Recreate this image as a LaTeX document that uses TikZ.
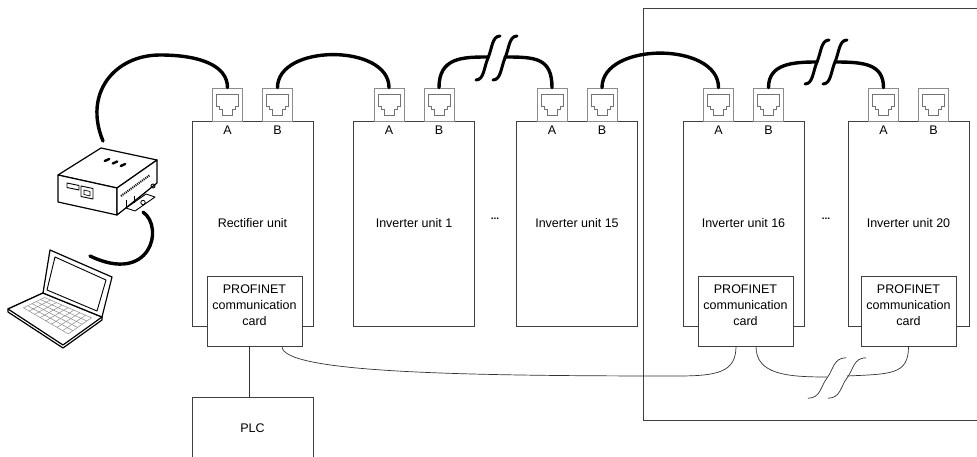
\documentclass[tikz,border=0pt]{standalone}
\usepackage{fontspec}
\setmainfont{Liberation Sans}
\usetikzlibrary{positioning,calc}

\tikzset{
    unit/.style={draw=black!75, line width=0.9pt, fill=white, inner sep=0pt,
        minimum width=121pt, minimum height=205pt, font=\fontsize{12.5}{15}\selectfont},
    card/.style={draw=black!75, line width=0.9pt, fill=white, inner sep=0pt,
        minimum width=95pt, minimum height=70pt,
        label={[align=center, yshift=6pt, font=\fontsize{12.5}{16}\selectfont]center:PROFINET\\communication\\card}},
    jack/.style={draw=black!45, line width=0.8pt, fill=white, inner sep=0pt,
        minimum width=30pt, minimum height=33pt,
        path picture={
            \coordinate (nw) at (path picture bounding box.north west);
            \draw[black!55, line width=0.8pt]
            ($(nw)+(4pt,-6pt)$) -- ($(nw)+(26pt,-6pt)$) -- ($(nw)+(26pt,-18pt)$) -- ($(nw)+(23pt,-18pt)$)
            -- ($(nw)+(23pt,-21pt)$) -- ($(nw)+(20pt,-21pt)$) -- ($(nw)+(20pt,-27pt)$) -- ($(nw)+(10pt,-27pt)$)
            -- ($(nw)+(10pt,-21pt)$) -- ($(nw)+(7pt,-21pt)$) -- ($(nw)+(7pt,-18pt)$) -- ($(nw)+(4pt,-18pt)$) -- cycle;}},
    jacklbl/.style={inner sep=0pt, font=\fontsize{12.5}{15}\selectfont},
    dotsep/.style={inner sep=0pt, font=\fontsize{10}{12}\selectfont\bfseries},
    cable/.style={line width=3.4pt, line cap=round},
    wire/.style={line width=0.7pt, black!80},
    pics/cablecut/.style={code={
        \draw (-12,22) .. controls (-4,22) and (-4,9) .. (0,0) .. controls (4,-9) and (4,-22) .. (12,-22);
    }},
}

\begin{document}
\begin{tikzpicture}[x=1pt, y=-1pt]
    \useasboundingbox (0,0) rectangle (977,457);
    \clip (0,0) rectangle (977,457);

    % drive cabinet section
    \draw[black!75, line width=0.9pt] (643,8) rectangle (990,420);

    % units with their two ports
    \foreach \n/\x/\t in {rect/252.5/Rectifier unit, inva/414/Inverter unit 1, invb/577/Inverter unit 15,
                          invc/743.5/Inverter unit 16, invd/908.5/Inverter unit 20} {
        \node[unit] (\n) at (\x,223.5) {\t};
        \node[jack] (\n-a) at ({\x-25},104.5) {};
        \node[jack] (\n-b) at ({\x+25},104.5) {};
        \node[jacklbl, below=4pt of \n-a] (\n-al) {A};
        \node[jacklbl, below=4pt of \n-b] (\n-bl) {B};
    }
    \node[dotsep] (gap1) at (495,219) {...};
    \node[dotsep] (gap2) at (826,219) {...};

    % fieldbus cards
    \node[card] (rect-card) at (254.5,311) {};
    \node[card] (invc-card) at (745.5,311) {};
    \node[card] (invd-card) at (908.5,311) {};

    \node[draw=black!75, line width=0.9pt, minimum width=121pt, minimum height=62pt,
          font=\fontsize{12.5}{15}\selectfont] (plc) at (252.5,428) {PLC};
    \draw[wire] ([xshift=-3.5pt]plc.north) -- ([xshift=-3.5pt]plc.north |- rect-card.south);

    % PROFINET ring
    \coordinate (lan-mid) at (677,376);
    \coordinate (cut3l) at (827,377);
    \coordinate (cut3r) at (847,376);
    \draw[wire] ([xshift=27.5pt]rect-card.south) .. controls +(0,26) and +(-220,0) .. (lan-mid)
        .. controls +(40,0) and +(0,26) .. ([xshift=-9.5pt]invc-card.south);
    \draw[wire] ([xshift=10.5pt]invc-card.south) .. controls +(0,28) and +(-40,0) .. (cut3l);
    \draw[wire] (cut3r) .. controls +(45,-2) and +(0,28) .. (invd-card.south);
    \pic[wire, xscale=1.6, yscale=0.92] at (827,378) {cablecut};
    \pic[wire, xscale=1.6, yscale=0.92] at (847,378) {cablecut};

    % optical link between the units
    \coordinate (gw-top) at (103,141);
    \coordinate (gw-bot) at (143,212);
    \coordinate (pc-end) at (90,256);
    \coordinate (arc-top) at (160,55);
    \coordinate (cut1l) at (488,57);
    \coordinate (cut1r) at (505,57);
    \coordinate (cut2l) at (817,62);
    \coordinate (cut2r) at (835,62);
    \draw[cable] (gw-top) .. controls +(-20,-48) and +(-45,0) .. (arc-top)
        .. controls +(40,0) and +(0,-22) .. (rect-a.north);
    \draw[cable] (rect-b.north) .. controls +(0,-44) and +(0,-44) .. (inva-a.north);
    \draw[cable] (inva-b.north) .. controls +(0,-30) and +(-26,0) .. (cut1l);
    \draw[cable] (cut1r) .. controls +(30,0) and +(0,-30) .. (invb-a.north);
    \draw[cable] (invb-b.north) .. controls +(0,-46) and +(0,-46) .. (invc-a.north);
    \draw[cable] (invc-b.north) .. controls +(0,-24) and +(-24,0) .. (cut2l);
    \draw[cable] (cut2r) .. controls +(28,0) and +(0,-24) .. (invd-a.north);
    \pic[line width=3pt, line cap=round] at (488,58) {cablecut};
    \pic[line width=3pt, line cap=round] at (505,58) {cablecut};
    \pic[line width=3pt, line cap=round] at (817,62) {cablecut};
    \pic[line width=3pt, line cap=round] at (835,62) {cablecut};
    \draw[cable] (gw-bot) .. controls (165,228) and (150,285) .. (pc-end);

    % gateway box
    \begin{scope}[line width=1.2pt, line join=round]
        \draw[fill=white] (58,175) -- (101,148) -- (157,160) -- (117,188) -- cycle;
        \draw[fill=white] (58,175) -- (117,188) -- (117,215) -- (58,202) -- cycle;
        \draw[fill=white] (117,188) -- (157,160) -- (157,183) -- (117,215) -- cycle;
        \foreach \cx/\cy in {107/160, 115/162.5, 123/165}
            \draw[line width=2.4pt, line cap=round] ({\cx-2.2},{\cy+1}) -- ({\cx+2.2},{\cy-1});
        \draw[line width=0.9pt] (67,183) -- (79,185.5) -- (79,190) -- (67,187.5) -- cycle;
        \draw[line width=0.9pt] (81,186) -- (93,188.5) -- (93,199) -- (81,196.5) -- cycle;
        \draw[line width=0.7pt] (84,190) -- (90,191.5) -- (90,196) -- (84,194.5) -- cycle;
        \draw[line width=2pt, dash pattern=on 1pt off 1pt] (121,196) -- (150,175);
        \draw[line width=0.9pt] (153,186) circle (2);
        \draw[line width=0.9pt, fill=white] (126,208) -- (146,194) -- (155,197) -- (135,211) -- cycle;
        \draw[line width=0.8pt] (143,202.5) circle (2.2);
        \draw[line width=0.9pt] (126,200) -- (126,208) (134,196) -- (134,203);
    \end{scope}

    % laptop
    \begin{scope}[line width=1.2pt, line join=round]
        \draw[fill=white] (43,293) -- (102,317) -- (102,320) -- (63,348) -- (8,312) -- (8,309) -- cycle;
        \draw[fill=white] (43,293) -- (102,317) -- (63,345) -- (8,309) -- cycle;
        \foreach \b in {0.12,0.24,0.36,0.48,0.6,0.72}
            \draw[black!45, line width=0.5pt]
                ({43+59*0.1-35*\b-4*0.1*\b},{293+24*0.1+16*\b+12*0.1*\b}) --
                ({43+59*0.9-35*\b-4*0.9*\b},{293+24*0.9+16*\b+12*0.9*\b});
        \foreach \a in {0.1,0.2,0.3,0.4,0.5,0.6,0.7,0.8,0.9}
            \draw[black!45, line width=0.5pt]
                ({43+59*\a-35*0.12-4*\a*0.12},{293+24*\a+16*0.12+12*\a*0.12}) --
                ({43+59*\a-35*0.72-4*\a*0.72},{293+24*\a+16*0.72+12*\a*0.72});
        \draw[fill=white] (50,250) -- (112,277) -- (102,317) -- (43,293) -- cycle;
        \draw[line width=0.9pt] (55,257) -- (106,280) -- (97,311) -- (47,290) -- cycle;
    \end{scope}
\end{tikzpicture}
\end{document}
